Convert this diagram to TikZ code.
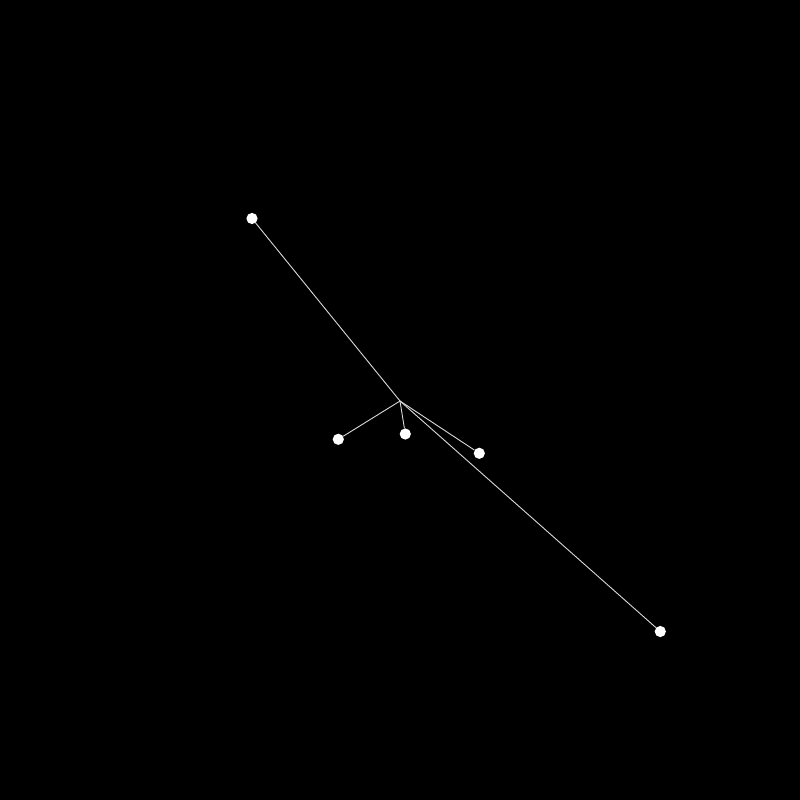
\documentclass[tikz,border=0pt]{standalone}
\begin{document}
\begin{tikzpicture}[x=1pt,y=-1pt,
  leaf/.style={circle,fill=white,inner sep=0pt,minimum size=11.2pt},
  hub/.style={inner sep=0pt,minimum size=0pt},
  edge/.style={draw=white!85!black,line width=0.9pt}]
\fill[black] (0,0) rectangle (800,800);
\useasboundingbox (0,0) rectangle (800,800);
\node[hub] (c) at (400,401) {};
\node[leaf] (a) at (252,218.5) {};
\node[leaf] (b) at (338.3,439.3) {};
\node[leaf] (d) at (405.3,434) {};
\node[leaf] (e) at (479.3,453.3) {};
\node[leaf] (f) at (660.3,631.5) {};
\foreach \n in {a,b,d,e,f} \draw[edge] (c.center) -- (\n);
\end{tikzpicture}
\end{document}
